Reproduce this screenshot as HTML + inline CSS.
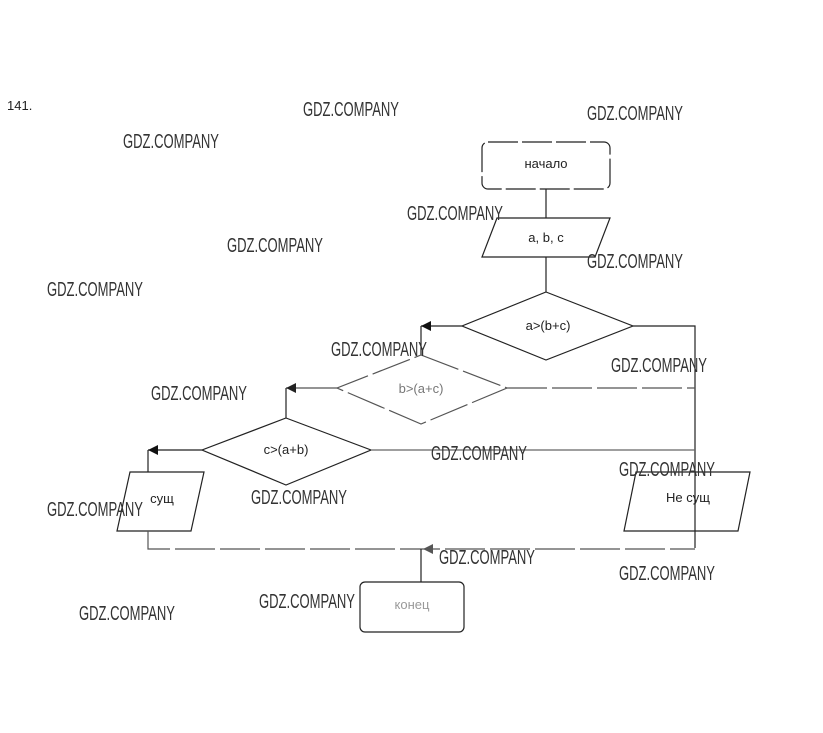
<!DOCTYPE html>
<html><head><meta charset="utf-8"><style>
html,body{margin:0;padding:0;background:#fff;}
svg{display:block;}
.w{font-family:"Liberation Sans",sans-serif;font-size:20px;fill:#333;}
.t{font-family:"Liberation Sans","DejaVu Sans",sans-serif;font-size:13px;fill:#222;text-anchor:middle;}
</style></head><body>
<svg width="823" height="733" viewBox="0 0 823 733" xmlns="http://www.w3.org/2000/svg">
<defs><marker id="a" markerWidth="10" markerHeight="8" refX="9" refY="4" orient="auto" markerUnits="userSpaceOnUse"><path d="M0,0 L10,4 L0,8z" fill="#111"/></marker></defs>
<g fill="none" stroke="#222" stroke-width="1.2">
<rect x="482" y="142" width="128" height="47" rx="6" stroke-dasharray="30,4"/>
<line x1="546" y1="189" x2="546" y2="218"/>
<polygon points="497,218 610,218 595,257 482,257"/>
<line x1="546" y1="257" x2="546" y2="292"/>
<polygon points="546,292 633,326 546,360 462,326"/>
<polyline points="462,326 421,326"/>
<line x1="421" y1="326" x2="421" y2="355"/>
<polyline points="633,326 695,326 695,548"/>
<polygon points="421,355 507,388 421,424 337,388" stroke="#555" stroke-dasharray="40,5"/>
<line x1="507" y1="388" x2="695" y2="388" stroke="#555" stroke-dasharray="40,5"/>
<line x1="337" y1="388" x2="286" y2="388" stroke="#555"/>
<line x1="286" y1="388" x2="286" y2="418"/>
<polygon points="286,418 371,450 286,485 202,450"/>
<line x1="371" y1="450" x2="695" y2="450" stroke="#666"/>
<line x1="202" y1="450" x2="148" y2="450"/>
<line x1="148" y1="450" x2="148" y2="472"/>
<polygon points="130,472 204,472 191,531 117,531"/>
<polygon points="636,472 750,472 738,531 624,531"/>
<polyline points="148,531 148,549 695,549" stroke="#555" stroke-dasharray="40,5"/>
<line x1="421" y1="549" x2="421" y2="582"/>
<rect x="360" y="582" width="104" height="50" rx="5"/>
</g>
<path d="M421,326 l10,-5 v10z" fill="#111"/>
<path d="M286,388 l10,-5 v10z" fill="#222"/>
<path d="M148,450 l10,-5 v10z" fill="#111"/>
<path d="M423,549 l10,-5 v10z" fill="#555"/>
<text class="t" x="546" y="168" fill="#444">начало</text>
<text class="t" x="546" y="242">a, b, c</text>
<text class="t" x="548" y="330">a&gt;(b+c)</text>
<text class="t" x="421" y="393" style="fill:#777">b&gt;(a+c)</text>
<text class="t" x="286" y="454">c&gt;(a+b)</text>
<text class="t" x="162" y="503">сущ</text>
<text class="t" x="688" y="502">Не сущ</text>
<text class="t" x="412" y="609" style="fill:#999">конец</text>
<text x="7" y="110" style="font-family:'Liberation Sans',sans-serif;font-size:13px;fill:#222">141.</text>
<g class="w">
<text x="303" y="116" textLength="96" lengthAdjust="spacingAndGlyphs">GDZ.COMPANY</text>
<text x="587" y="120" textLength="96" lengthAdjust="spacingAndGlyphs">GDZ.COMPANY</text>
<text x="123" y="148" textLength="96" lengthAdjust="spacingAndGlyphs">GDZ.COMPANY</text>
<text x="407" y="220" textLength="96" lengthAdjust="spacingAndGlyphs">GDZ.COMPANY</text>
<text x="227" y="252" textLength="96" lengthAdjust="spacingAndGlyphs">GDZ.COMPANY</text>
<text x="587" y="268" textLength="96" lengthAdjust="spacingAndGlyphs">GDZ.COMPANY</text>
<text x="47" y="296" textLength="96" lengthAdjust="spacingAndGlyphs">GDZ.COMPANY</text>
<text x="331" y="356" textLength="96" lengthAdjust="spacingAndGlyphs">GDZ.COMPANY</text>
<text x="611" y="372" textLength="96" lengthAdjust="spacingAndGlyphs">GDZ.COMPANY</text>
<text x="151" y="400" textLength="96" lengthAdjust="spacingAndGlyphs">GDZ.COMPANY</text>
<text x="431" y="460" textLength="96" lengthAdjust="spacingAndGlyphs">GDZ.COMPANY</text>
<text x="619" y="476" textLength="96" lengthAdjust="spacingAndGlyphs">GDZ.COMPANY</text>
<text x="251" y="504" textLength="96" lengthAdjust="spacingAndGlyphs">GDZ.COMPANY</text>
<text x="47" y="516" textLength="96" lengthAdjust="spacingAndGlyphs">GDZ.COMPANY</text>
<text x="439" y="564" textLength="96" lengthAdjust="spacingAndGlyphs">GDZ.COMPANY</text>
<text x="619" y="580" textLength="96" lengthAdjust="spacingAndGlyphs">GDZ.COMPANY</text>
<text x="259" y="608" textLength="96" lengthAdjust="spacingAndGlyphs">GDZ.COMPANY</text>
<text x="79" y="620" textLength="96" lengthAdjust="spacingAndGlyphs">GDZ.COMPANY</text>
</g>
</svg>
</body></html>
